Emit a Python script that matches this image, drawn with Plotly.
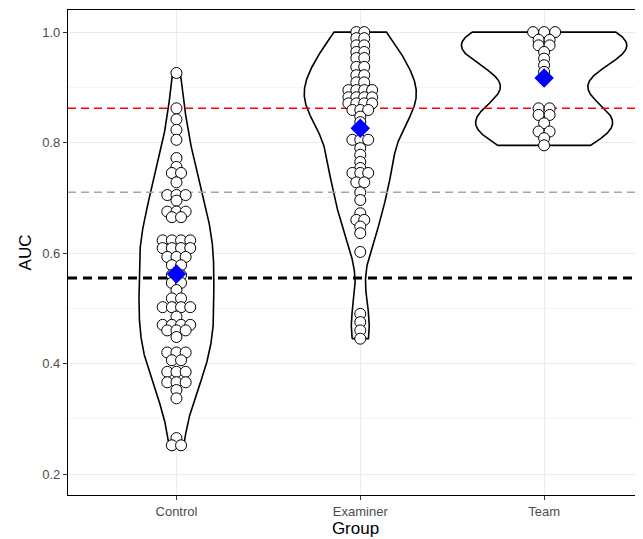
import numpy as np
import plotly.graph_objects as go

categories = ["Control", "Examiner", "Team"]

control = [0.926, 0.862, 0.842, 0.823, 0.805, 0.772, 0.756, 0.745, 0.745, 0.728,
           0.705, 0.705, 0.705, 0.695, 0.675, 0.675, 0.675, 0.665, 0.665,
           0.623, 0.623, 0.623, 0.623, 0.609, 0.609, 0.609, 0.609,
           0.593, 0.593, 0.593, 0.578, 0.578, 0.56, 0.56, 0.546, 0.546,
           0.533, 0.518, 0.518, 0.502, 0.502, 0.502, 0.502, 0.485,
           0.47, 0.47, 0.47, 0.47, 0.46, 0.46, 0.46, 0.448,
           0.42, 0.42, 0.42, 0.406, 0.406, 0.385, 0.385, 0.385,
           0.366, 0.366, 0.366, 0.352, 0.337, 0.265, 0.252, 0.252]

examiner = [1.0, 1.0, 0.989, 0.989, 0.976, 0.976, 0.964, 0.964, 0.953, 0.953,
            0.937, 0.937, 0.922, 0.922, 0.909, 0.909, 0.895, 0.895, 0.895, 0.895,
            0.882, 0.882, 0.882, 0.882, 0.871, 0.871, 0.871, 0.871,
            0.859, 0.859, 0.859, 0.847, 0.837, 0.826,
            0.805, 0.805, 0.805, 0.79, 0.778, 0.765, 0.754,
            0.745, 0.745, 0.745, 0.728, 0.728, 0.71, 0.696,
            0.672, 0.66, 0.66, 0.648, 0.636, 0.602,
            0.49, 0.475, 0.46, 0.445]

team = [1.0, 1.0, 1.0, 0.986, 0.986, 0.976, 0.976, 0.964, 0.952, 0.94, 0.928,
        0.862, 0.862, 0.85, 0.85, 0.835, 0.82, 0.82, 0.808, 0.795]

group_means = [0.562, 0.826, 0.917]

ref_values = [0.862, 0.710, 0.555]
ref_colors = ["#FF0000", "#A6A6A6", "#000000"]
ref_widths = [1.5, 1.5, 3]
ref_dashes = ["8px,5px", "8px,5px", "9px,6px"]

y_ticks = [0.2, 0.4, 0.6, 0.8, 1.0]
y_ticklabels = ["0.2", "0.4", "0.6", "0.8", "1.0"]

groups = [control, examiner, team]
positions = [1, 2, 3]
VIOLIN_WIDTH = 0.9
DOT_SPACING = [0.05, 0.043, 0.06]
X_RANGE = [0.41, 3.538]
Y_RANGE = [0.162, 1.04]


def bw_nrd0(x):
    x = np.asarray(x, float)
    sd = np.std(x, ddof=1)
    iqr = np.subtract(*np.percentile(x, [75, 25]))
    lo = min(sd, iqr / 1.34)
    if lo <= 0:
        lo = sd
    return 0.9 * lo * len(x) ** -0.2


def kde(x, grid):
    x = np.asarray(x, float)
    bw = bw_nrd0(x)
    z = (grid[:, None] - x[None, :]) / bw
    return np.exp(-0.5 * z ** 2).sum(axis=1) / (len(x) * bw * np.sqrt(2 * np.pi))


dens = []
for g in groups:
    grid = np.linspace(min(g), max(g), 512)
    dens.append((grid, kde(g, grid)))
max_d = max(d.max() for _, d in dens)

fig = go.Figure()

# violins
for pos, (grid, d) in zip(positions, dens):
    half = d / max_d * VIOLIN_WIDTH / 2
    xs = np.concatenate([pos - half, (pos + half)[::-1], [pos - half[0]]])
    ys = np.concatenate([grid, grid[::-1], [grid[0]]])
    fig.add_trace(go.Scatter(x=xs, y=ys, mode="lines", fill="toself",
                             fillcolor="white", line=dict(color="black", width=1.6),
                             hoverinfo="skip", showlegend=False))

# reference lines
for v, c, w, dsh in zip(ref_values, ref_colors, ref_widths, ref_dashes):
    fig.add_trace(go.Scatter(x=X_RANGE, y=[v, v], mode="lines",
                             line=dict(color=c, width=w, dash=dsh),
                             hoverinfo="skip", showlegend=False))

# dots (centered stacks for repeated values)
for pos, g, sp in zip(positions, groups, DOT_SPACING):
    vals = np.asarray(g, float)
    xs = np.zeros_like(vals)
    uniq = {}
    for i, v in enumerate(vals):
        uniq.setdefault(v, []).append(i)
    for v, idx in uniq.items():
        k = len(idx)
        for j, i in enumerate(idx):
            xs[i] = pos + (j - (k - 1) / 2) * sp
    fig.add_trace(go.Scatter(x=xs, y=vals, mode="markers",
                             marker=dict(size=11, color="white",
                                         line=dict(color="black", width=1)),
                             showlegend=False))

# means
fig.add_trace(go.Scatter(x=positions, y=group_means, mode="markers",
                         marker=dict(symbol="diamond", size=15, color="#0000FF",
                                     line=dict(width=0)),
                         showlegend=False))

# the page body adds an 8px offset, so the figure is sized to fit inside the window
fig.update_layout(
    width=635, height=531,
    margin=dict(l=60, r=0, t=2, b=44, autoexpand=False),
    plot_bgcolor="white", paper_bgcolor="white",
    font=dict(family="Liberation Sans, Arial, sans-serif", color="#4D4D4D"),
    xaxis=dict(range=X_RANGE, tickvals=positions, ticktext=categories,
               showgrid=True, gridcolor="#EBEBEB", gridwidth=1,
               showline=True, linecolor="black", linewidth=1.2, mirror=True,
               ticks="outside", ticklen=4, tickcolor="#333333",
               tickfont=dict(size=13, color="#4D4D4D"),
               title=dict(text="Group", font=dict(size=17, color="black"), standoff=2),
               zeroline=False, automargin=False),
    yaxis=dict(range=Y_RANGE, tickvals=y_ticks, ticktext=y_ticklabels,
               showgrid=True, gridcolor="#EBEBEB", gridwidth=1,
               minor=dict(tickvals=[0.3, 0.5, 0.7, 0.9], showgrid=True,
                          gridcolor="#F5F5F5", gridwidth=1, ticks=""),
               showline=True, linecolor="black", linewidth=1.2, mirror=False,
               ticks="outside", ticklen=4, tickcolor="#333333",
               tickfont=dict(size=13, color="#4D4D4D"),
               title=dict(text="AUC", font=dict(size=17, color="black"), standoff=6),
               zeroline=False, automargin=False),
)

fig.write_html("out.html", post_script="document.body.style.overflow='hidden';")
